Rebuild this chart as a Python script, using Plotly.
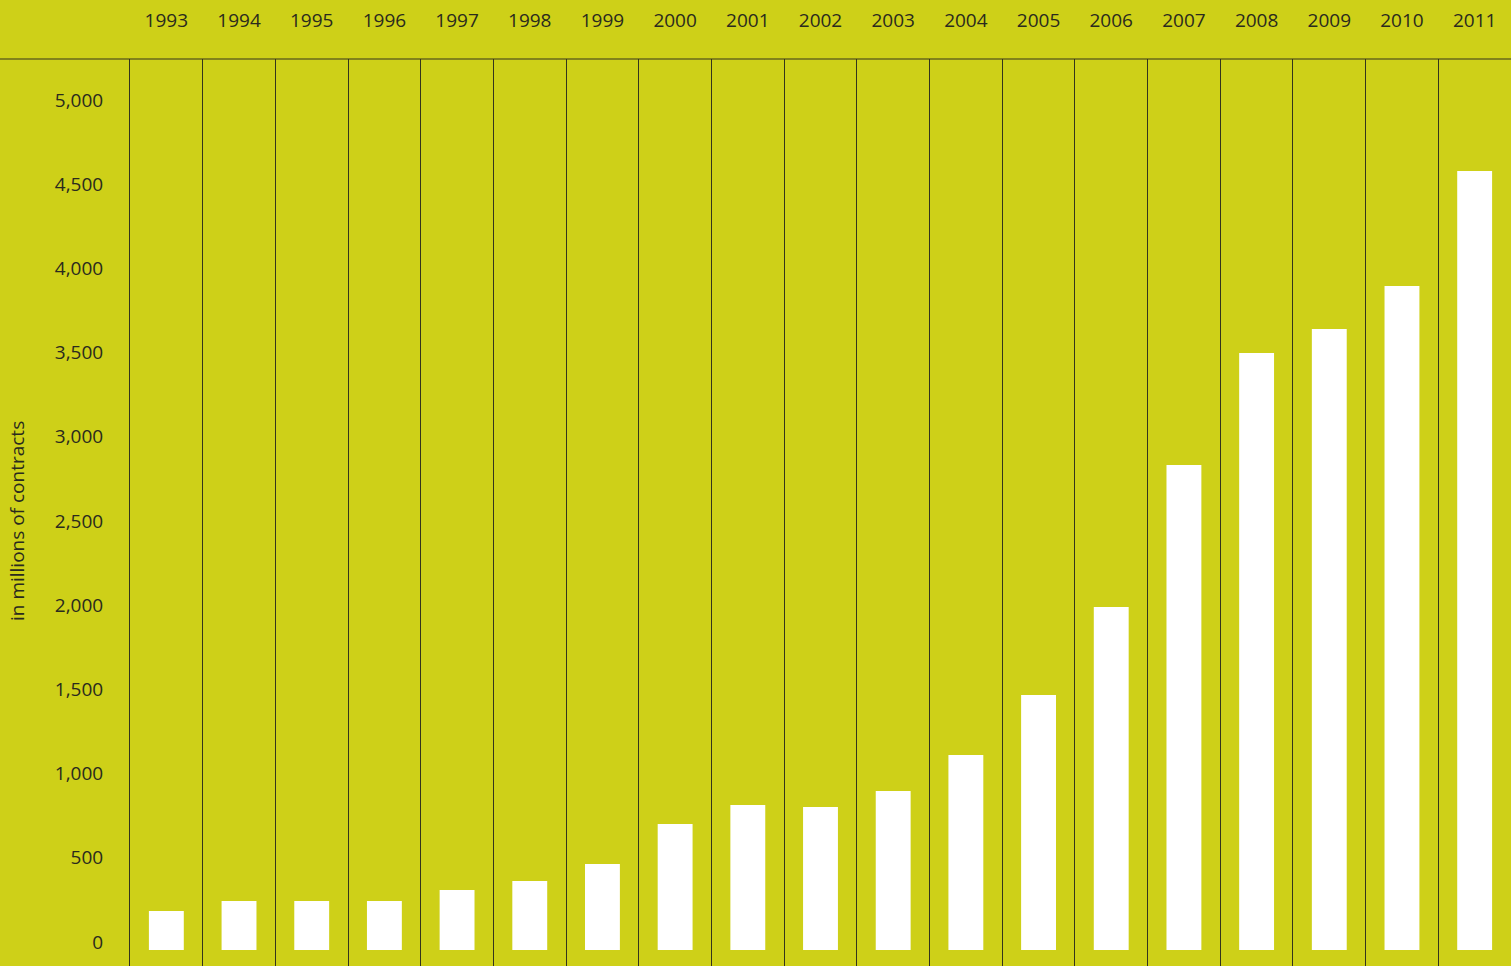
import plotly.graph_objects as go

years = ["1993", "1994", "1995", "1996", "1997", "1998", "1999", "2000", "2001", "2002",
         "2003", "2004", "2005", "2006", "2007", "2008", "2009", "2010", "2011"]
contracts = [232, 291, 291, 291, 356, 410, 511, 748, 861, 849,
             944, 1158, 1514, 2037, 2880, 3545, 3688, 3943, 4626]
y_ticks = [0, 500, 1000, 1500, 2000, 2500, 3000, 3500, 4000, 4500, 5000]
y_title = "in millions of contracts"

BG = "#CED018"
INK = "#2a2a1e"
LINE = "#34341c"
W, H = 1511, 966
ML, MT = 130, 59

fig = go.Figure()
fig.add_trace(go.Bar(
    x=years, y=contracts,
    marker=dict(color="white", line=dict(width=0)),
    hoverinfo="x+y",
))

fig.update_layout(
    width=W, height=H,
    margin=dict(l=ML, r=0, t=MT, b=0, pad=0),
    paper_bgcolor=BG, plot_bgcolor=BG,
    bargap=0.52,
    showlegend=False,
    font=dict(family="Open Sans, Noto Sans, sans-serif", size=19, color=INK),
    xaxis=dict(
        type="category", side="top",
        tickson="boundaries",
        showgrid=True, gridcolor=LINE, gridwidth=1,
        ticks="", showline=False, zeroline=False,
        ticklabelstandoff=27,
        tickfont=dict(size=19, color=INK),
    ),
    yaxis=dict(
        range=[-95, 5291],
        tickvals=y_ticks, tickformat=",",
        showgrid=False, zeroline=False,
        showline=True, linecolor=LINE, linewidth=1, mirror=True,
        ticks="", ticklabelstandoff=22, ticklabelshift=-8,
        tickfont=dict(size=19, color=INK),
    ),
    shapes=[dict(
        type="line", xref="paper", yref="paper",
        x0=-ML / (W - ML), x1=1, y0=1, y1=1,
        line=dict(color=LINE, width=1.2),
    )],
    annotations=[dict(
        text=y_title, textangle=-90,
        xref="paper", yref="paper",
        x=(17 - ML) / (W - ML), y=(H - 521) / (H - MT),
        xanchor="center", yanchor="middle", showarrow=False,
        font=dict(size=19, color=INK),
    )],
)

fig.write_html(
    "out.html",
    config={"displayModeBar": False},
    post_script="document.body.style.margin='0';document.body.style.overflow='hidden';",
)
